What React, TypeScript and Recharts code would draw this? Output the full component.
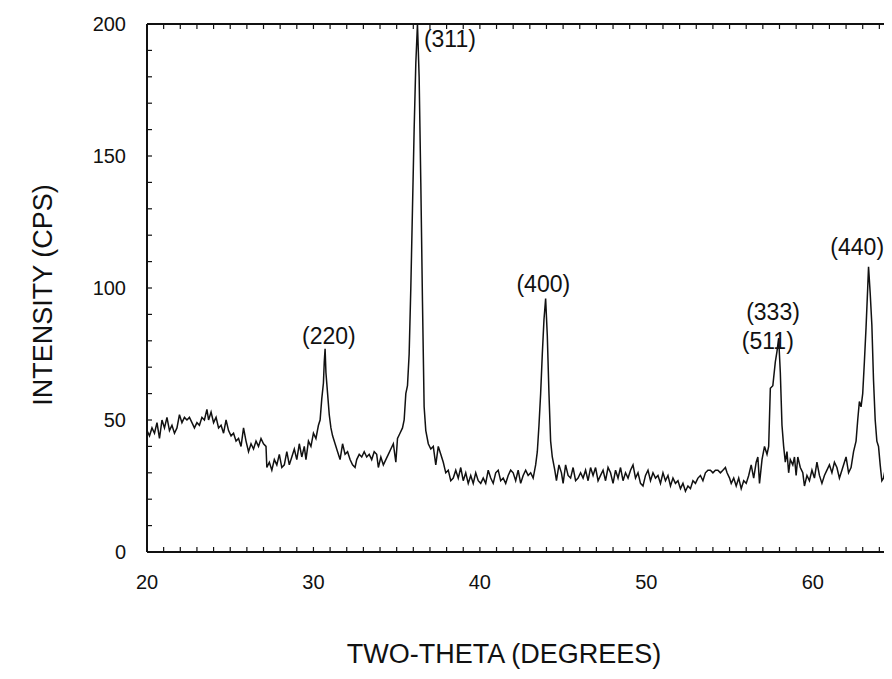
import { LineChart, Line, XAxis, YAxis, ReferenceDot, Label } from 'recharts';

// diffraction scan
const TWO_THETA = [
  20.0, 20.15, 20.3, 20.45, 20.6, 20.75, 20.9, 21.05, 21.2, 21.35, 21.5, 21.65, 21.8, 21.95,
  22.1, 22.25, 22.4, 22.55, 22.7, 22.85, 23.0, 23.15, 23.3, 23.45, 23.6, 23.7, 23.85, 24.0,
  24.15, 24.3, 24.45, 24.6, 24.75, 24.9, 25.05, 25.2, 25.35, 25.5, 25.65, 25.8, 25.95, 26.1,
  26.25, 26.4, 26.55, 26.7, 26.85, 27.0, 27.15, 27.2, 27.35, 27.5, 27.65, 27.8, 27.95, 28.1,
  28.25, 28.4, 28.55, 28.7, 28.85, 29.0, 29.15, 29.3, 29.45, 29.55, 29.7, 29.85, 30.0, 30.15,
  30.3, 30.4, 30.5, 30.6, 30.65, 30.7, 30.75, 30.85, 30.95, 31.05, 31.15, 31.3, 31.45, 31.6,
  31.75, 31.9, 32.05, 32.2, 32.35, 32.5, 32.6, 32.75, 32.9, 33.05, 33.2, 33.35, 33.5, 33.65,
  33.8, 33.9, 34.05, 34.2, 34.35, 34.5, 34.65, 34.8, 34.95, 35.05, 35.2, 35.35, 35.45, 35.55,
  35.65, 35.75, 35.85, 35.95, 36.05, 36.15, 36.25, 36.35, 36.45, 36.55, 36.65, 36.75, 36.9,
  37.05, 37.2, 37.35, 37.5, 37.65, 37.8, 37.95, 38.1, 38.25, 38.4, 38.55, 38.7, 38.85, 39.0,
  39.15, 39.3, 39.45, 39.6, 39.75, 39.9, 40.05, 40.2, 40.35, 40.5, 40.65, 40.8, 40.95, 41.1,
  41.25, 41.4, 41.55, 41.7, 41.85, 42.0, 42.15, 42.3, 42.45, 42.6, 42.75, 42.9, 43.05, 43.2,
  43.35, 43.45, 43.55, 43.65, 43.75, 43.85, 43.95, 44.05, 44.15, 44.25, 44.35, 44.5, 44.6,
  44.75, 44.9, 45.0, 45.15, 45.3, 45.45, 45.6, 45.75, 45.9, 46.05, 46.2, 46.35, 46.5, 46.65,
  46.8, 46.95, 47.1, 47.25, 47.4, 47.55, 47.7, 47.85, 48.0, 48.15, 48.3, 48.45, 48.6, 48.75,
  48.9, 49.05, 49.2, 49.35, 49.5, 49.65, 49.8, 49.95, 50.1, 50.25, 50.4, 50.55, 50.7, 50.85,
  51.0, 51.15, 51.3, 51.45, 51.6, 51.75, 51.9, 52.05, 52.2, 52.35, 52.5, 52.65, 52.8, 52.95,
  53.1, 53.25, 53.4, 53.55, 53.7, 53.85, 54.0, 54.15, 54.3, 54.45, 54.6, 54.75, 54.85, 55.0,
  55.1, 55.25, 55.4, 55.55, 55.7, 55.85, 56.0, 56.15, 56.3, 56.45, 56.6, 56.7, 56.8, 56.95,
  57.1, 57.25, 57.35, 57.45, 57.6, 57.75, 57.85, 57.95, 58.05, 58.15, 58.25, 58.35, 58.45,
  58.55, 58.65, 58.8, 58.9, 59.0, 59.1, 59.25, 59.4, 59.5, 59.65, 59.8, 59.95, 60.1, 60.25,
  60.4, 60.55, 60.7, 60.85, 61.0, 61.15, 61.3, 61.45, 61.6, 61.75, 61.9, 62.0, 62.15, 62.3,
  62.45, 62.6, 62.7, 62.8, 62.9, 63.0, 63.1, 63.2, 63.3, 63.35, 63.45, 63.55, 63.65, 63.75,
  63.85, 63.95, 64.05, 64.15, 64.25, 64.4, 64.5, 64.6, 64.7,
];

const INTENSITY = [
  46, 44, 47, 45, 49, 43, 50, 47, 51, 46, 48, 45, 47, 52,
  49, 51, 50, 51, 49, 47, 49, 48, 51, 50, 54, 50, 53, 49,
  51, 47, 48, 45, 50, 46, 44, 45, 42, 43, 40, 47, 42, 38,
  41, 39, 42, 40, 43, 41, 40, 32, 34, 31, 35, 33, 37, 32,
  33, 38, 33, 36, 39, 35, 41, 36, 40, 35, 42, 40, 45, 43,
  48, 50, 58, 64, 72, 77, 68, 60, 52, 47, 44, 41, 38, 35,
  41, 37, 38, 35, 33, 32, 35, 37, 36, 38, 36, 37, 35, 38,
  37, 32, 36, 33, 35, 37, 39, 41, 34, 43, 45, 47, 50, 60,
  63, 75, 100, 130, 160, 185, 200, 180, 140, 95, 55, 46, 41,
  39, 40, 33, 40, 37, 34, 30, 31, 27, 28, 31, 28, 32, 27,
  30, 26, 29, 26, 30, 27, 26, 28, 26, 31, 28, 26, 30, 31,
  27, 28, 26, 29, 31, 30, 27, 31, 26, 29, 31, 29, 30, 28,
  33, 38, 48, 60, 75, 88, 96, 82, 60, 42, 36, 31, 27,
  33, 30, 26, 33, 29, 28, 32, 27, 28, 30, 28, 31, 27, 32,
  29, 32, 27, 29, 31, 27, 32, 30, 26, 31, 28, 32, 27, 30,
  28, 31, 33, 28, 30, 26, 25, 29, 31, 27, 30, 28, 29, 26,
  30, 27, 29, 25, 28, 26, 27, 24, 26, 23, 25, 24, 27, 26,
  28, 29, 27, 30, 31, 31, 30, 31, 31, 30, 31, 32, 30, 28,
  26, 28, 25, 28, 24, 27, 26, 29, 33, 28, 34, 36, 26, 35,
  40, 37, 40, 62, 63, 72, 76, 81, 68, 48, 40, 34, 38,
  30, 35, 33, 36, 29, 36, 32, 30, 25, 29, 27, 31, 28, 34,
  29, 26, 29, 31, 33, 30, 34, 32, 28, 31, 34, 36, 30, 32,
  38, 42, 50, 57, 55, 60, 72, 85, 100, 108, 98, 86, 65, 50,
  42, 40, 33, 27, 28, 33, 34, 41, 41,
];

const X_LABELS = [20, 30, 40, 50, 60];
const X_TICKS = [
  20, 21, 22, 23, 24, 25, 26, 27, 28, 29, 30, 31, 32, 33, 34, 35, 36, 37, 38, 39, 40, 41, 42,
  43, 44, 45, 46, 47, 48, 49, 50, 51, 52, 53, 54, 55, 56, 57, 58, 59, 60, 61, 62, 63, 64, 65,
];
const Y_LABELS = [0, 50, 100, 150, 200];
const Y_TICKS = [0, 10, 20, 30, 40, 50, 60, 70, 80, 90, 100, 110, 120, 130, 140, 150, 160, 170, 180, 190, 200];

// peak indices with the spot (in data units) where each label's centre sits
const PEAK_LABELS = [
  { text: '(220)', x: 30.93, y: 82 },
  { text: '(311)', x: 38.2, y: 194.5 },
  { text: '(400)', x: 43.81, y: 101.5 },
  { text: '(333)', x: 57.61, y: 91 },
  { text: '(511)', x: 57.3, y: 80 },
  { text: '(440)', x: 62.67, y: 115.6 },
];

const rows = TWO_THETA.map((t, i) => ({ t, v: INTENSITY[i] }));

const FONT = '"Liberation Sans", Arial, sans-serif';
const INK = '#111';

function BottomTick(props: any) {
  const { x, y, payload } = props;
  return (
    <g>
      <line x1={x} x2={x} y1={y} y2={y - 5} stroke={INK} strokeWidth={1.2} />
      {X_LABELS.includes(payload.value) && (
        <text x={x} y={y + 37} textAnchor="middle" fontFamily={FONT} fontSize={20} fill={INK}>
          {payload.value}
        </text>
      )}
    </g>
  );
}

function TopTick(props: any) {
  const { x, y } = props;
  return <line x1={x} x2={x} y1={y} y2={y + 5} stroke={INK} strokeWidth={1.2} />;
}

function LeftTick(props: any) {
  const { x, y, payload } = props;
  return (
    <g>
      <line x1={x} x2={x + 5} y1={y} y2={y} stroke={INK} strokeWidth={1.2} />
      {Y_LABELS.includes(payload.value) && (
        <text x={x - 21} y={y + 7} textAnchor="end" fontFamily={FONT} fontSize={20} fill={INK}>
          {payload.value}
        </text>
      )}
    </g>
  );
}

export default function App() {
  return (
    <div style={{ width: 884, height: 662, overflow: 'hidden', background: '#fff' }}>
      <LineChart width={892} height={662} data={rows} margin={{ top: 15, right: 4, left: 0, bottom: 0 }}>
        <XAxis
          dataKey="t"
          type="number"
          domain={[20, 65]}
          ticks={X_TICKS}
          interval={0}
          tickSize={0}
          tickMargin={0}
          tickLine={false}
          tick={<BottomTick />}
          axisLine={{ stroke: INK, strokeWidth: 2 }}
          height={118}
          allowDataOverflow
        >
          <Label
            content={(p: any) => {
              const vb = p.viewBox;
              return (
                <text x={vb.x + 357} y={vb.y + 111} textAnchor="middle" fontFamily={FONT} fontSize={27} fill={INK}>
                  TWO-THETA (DEGREES)
                </text>
              );
            }}
          />
        </XAxis>
        <XAxis
          xAxisId="top"
          dataKey="t"
          orientation="top"
          type="number"
          domain={[20, 65]}
          ticks={X_TICKS}
          interval={0}
          tickSize={0}
          tickMargin={0}
          tickLine={false}
          tick={<TopTick />}
          axisLine={{ stroke: INK, strokeWidth: 2 }}
          height={1}
          allowDataOverflow
        />
        <YAxis
          type="number"
          domain={[0, 200]}
          ticks={Y_TICKS}
          interval={0}
          tickSize={0}
          tickMargin={0}
          tickLine={false}
          tick={<LeftTick />}
          axisLine={{ stroke: INK, strokeWidth: 2 }}
          width={139}
          allowDataOverflow
        >
          <Label
            content={(p: any) => {
              const vb = p.viewBox;
              const cx = vb.x + 44;
              const cy = vb.y + vb.height / 2 + 7;
              return (
                <text
                  x={cx}
                  y={cy}
                  transform={`rotate(-90 ${cx} ${cy})`}
                  textAnchor="middle"
                  fontFamily={FONT}
                  fontSize={27}
                  fill={INK}
                >
                  INTENSITY (CPS)
                </text>
              );
            }}
          />
        </YAxis>
        {/* invisible twin so the top frame axis gets drawn */}
        <Line
          xAxisId="top"
          type="linear"
          dataKey="v"
          stroke="none"
          dot={false}
          activeDot={false}
          isAnimationActive={false}
        />
        <Line
          type="linear"
          dataKey="v"
          stroke={INK}
          strokeWidth={1.5}
          dot={false}
          isAnimationActive={false}
        />
        {PEAK_LABELS.map((p) => (
          <ReferenceDot
            key={p.text}
            x={p.x}
            y={p.y}
            r={1}
            fill="none"
            stroke="none"
            label={{ value: p.text, position: 'center', fontFamily: FONT, fontSize: 23, fill: INK }}
          />
        ))}
      </LineChart>
    </div>
  );
}
